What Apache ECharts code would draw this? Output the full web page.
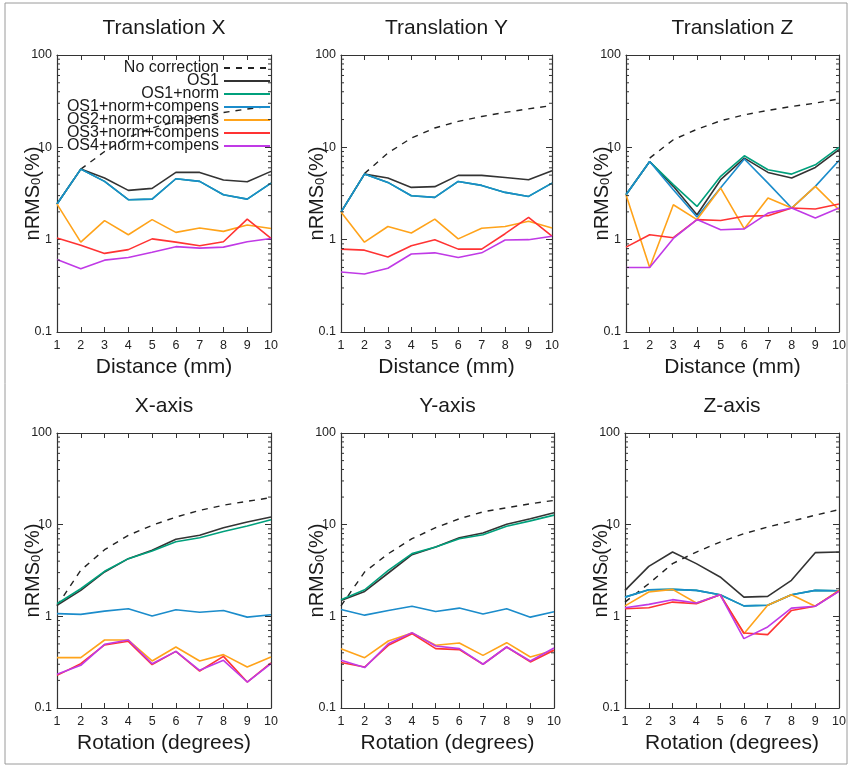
<!DOCTYPE html>
<html>
<head>
<meta charset="utf-8">
<script src="https://cdn.jsdelivr.net/npm/echarts@6/dist/echarts.min.js"></script>
<style>
  html, body { margin: 0; padding: 0; background: #fff; }
  #chart { width: 850px; height: 767px; }
</style>
</head>
<body>
<div id="chart"></div>
<script>
// x positions (mm for translations, degrees for rotations)
var steps = [1, 2, 3, 4, 5, 6, 7, 8, 9, 10];
var seriesNames = ['No correction', 'OS1', 'OS1+norm', 'OS1+norm+compens',
    'OS2+norm+compens', 'OS3+norm+compens', 'OS4+norm+compens'];
var seriesColors = ['#222222', '#333333', '#00a07c', '#1b8ccb', '#ffa31a', '#ff3333', '#c03ae6'];
var panelTitles = ['Translation X', 'Translation Y', 'Translation Z', 'X-axis', 'Y-axis', 'Z-axis'];
var xNames = ['Distance (mm)', 'Distance (mm)', 'Distance (mm)',
    'Rotation (degrees)', 'Rotation (degrees)', 'Rotation (degrees)'];
var minorTicks = [0.2, 0.3, 0.4, 0.5, 0.6, 0.7, 0.8, 0.9,
    2, 3, 4, 5, 6, 7, 8, 9, 20, 30, 40, 50, 60, 70, 80, 90];

// one row per series, same order as seriesNames
var transX = [
    [null, 5.8, 9.0, 12.8, 16.2, 19.0, 21.5, 23.8, 26.0, 28.0],
    [2.43, 5.81, 4.65, 3.42, 3.59, 5.35, 5.35, 4.42, 4.24, 5.49],
    [2.43, 5.81, 4.28, 2.71, 2.75, 4.57, 4.28, 3.07, 2.75, 4.10],
    [2.43, 5.81, 4.28, 2.71, 2.75, 4.57, 4.28, 3.07, 2.75, 4.10],
    [2.43, 0.94, 1.61, 1.13, 1.65, 1.20, 1.34, 1.23, 1.44, 1.32],
    [1.04, 0.87, 0.71, 0.78, 1.02, 0.94, 0.86, 0.95, 1.67, 1.03],
    [0.61, 0.485, 0.60, 0.64, 0.73, 0.84, 0.81, 0.83, 0.95, 1.03]
];
var transY = [
    [null, 5.2, 8.66, 12.6, 16.2, 19.1, 21.6, 23.9, 26.1, 28.4],
    [1.99, 5.13, 4.65, 3.68, 3.75, 4.97, 4.97, 4.72, 4.46, 5.58],
    [1.99, 5.13, 4.17, 2.99, 2.87, 4.27, 3.87, 3.25, 2.94, 4.10],
    [1.99, 5.13, 4.17, 2.99, 2.87, 4.27, 3.87, 3.25, 2.94, 4.10],
    [1.99, 0.94, 1.39, 1.18, 1.67, 1.02, 1.33, 1.39, 1.58, 1.34],
    [0.79, 0.77, 0.65, 0.86, 1.0, 0.79, 0.79, 1.16, 1.74, 1.09],
    [0.447, 0.425, 0.49, 0.70, 0.72, 0.64, 0.72, 0.99, 1.0, 1.09]
];
var transZ = [
    [null, 7.65, 12.1, 15.7, 19.4, 22.5, 25.1, 27.7, 30.1, 33.5],
    [3.07, 7.03, 3.78, 1.86, 4.46, 7.65, 5.35, 4.65, 6.06, 9.42],
    [3.07, 7.03, 3.94, 2.29, 4.85, 8.1, 5.72, 5.13, 6.47, 9.98],
    [3.07, 7.03, 3.47, 1.76, 3.65, 7.47, 4.10, 2.2, 3.78, 7.2],
    [3.07, 0.50, 2.39, 1.65, 3.62, 1.31, 2.82, 2.2, 3.78, 2.11],
    [0.83, 1.13, 1.05, 1.65, 1.61, 1.79, 1.82, 2.2, 2.15, 2.43],
    [0.50, 0.50, 1.03, 1.65, 1.28, 1.31, 1.94, 2.2, 1.72, 2.2]
];
var rotX = [
    [1.3, 3.18, 5.33, 7.65, 9.84, 12.1, 14.3, 16.3, 18.0, 19.7],
    [1.32, 1.92, 3.05, 4.26, 5.25, 6.92, 7.65, 9.27, 10.7, 12.1],
    [1.37, 2.0, 3.1, 4.26, 5.16, 6.5, 7.2, 8.43, 9.66, 11.3],
    [1.07, 1.05, 1.14, 1.21, 1.01, 1.18, 1.11, 1.16, 0.98, 1.04],
    [0.354, 0.354, 0.552, 0.552, 0.326, 0.463, 0.326, 0.382, 0.28, 0.36],
    [0.227, 0.304, 0.487, 0.534, 0.297, 0.415, 0.253, 0.366, 0.192, 0.31],
    [0.233, 0.292, 0.495, 0.552, 0.304, 0.415, 0.258, 0.331, 0.192, 0.304]
];
var rotY = [
    [1.3, 3.05, 4.83, 7.03, 9.27, 11.6, 13.8, 15.3, 16.9, 18.4],
    [1.49, 1.87, 2.97, 4.7, 5.7, 7.2, 8.1, 10.1, 11.6, 13.5],
    [1.52, 1.95, 3.17, 4.83, 5.7, 7.03, 7.77, 9.6, 11.0, 12.7],
    [1.19, 1.03, 1.16, 1.29, 1.13, 1.23, 1.06, 1.21, 0.98, 1.12],
    [0.444, 0.354, 0.538, 0.658, 0.483, 0.512, 0.375, 0.516, 0.36, 0.426],
    [0.313, 0.28, 0.483, 0.647, 0.444, 0.433, 0.3, 0.463, 0.318, 0.426],
    [0.331, 0.276, 0.503, 0.664, 0.475, 0.444, 0.3, 0.463, 0.326, 0.451]
];
var rotZ = [
    [1.43, 2.27, 3.76, 5.03, 6.46, 7.98, 9.42, 10.9, 12.7, 14.6],
    [1.92, 3.51, 5.03, 3.76, 2.69, 1.62, 1.65, 2.47, 4.95, 5.03],
    [1.62, 1.95, 1.97, 1.92, 1.72, 1.30, 1.32, 1.72, 1.92, 1.9],
    [1.62, 1.95, 1.97, 1.92, 1.72, 1.30, 1.32, 1.72, 1.92, 1.9],
    [1.30, 1.84, 1.97, 1.40, 1.72, 0.647, 1.32, 1.72, 1.29, 1.92],
    [1.21, 1.24, 1.43, 1.37, 1.72, 0.658, 0.631, 1.16, 1.29, 1.89],
    [1.24, 1.35, 1.52, 1.40, 1.72, 0.571, 0.765, 1.23, 1.29, 1.87]
];
var panels = [transX, transY, transZ, rotX, rotY, rotZ];

var font = '"Liberation Sans", Arial, Helvetica, sans-serif';
var axisColor = '#333';

// plot boxes (left, top, width, height)
var boxes = [
    [57, 55, 214, 277], [341, 55, 211, 277], [626, 55, 213, 277],
    [57, 433, 214, 275], [341, 433, 213, 275], [625, 433, 214, 275]
];

var grids = [], xAxes = [], yAxes = [], titles = [], series = [];

boxes.forEach(function (b, i) {
    grids.push({ left: b[0], top: b[1], width: b[2], height: b[3] });
    titles.push({
        text: panelTitles[i],
        left: b[0] + b[2] / 2,
        top: b[1] - 37,
        textAlign: 'center',
        padding: 0,
        textStyle: { fontFamily: font, fontSize: 21, fontWeight: 'normal', color: '#1a1a1a' }
    });
    var xBase = {
        gridIndex: i, type: 'value', min: 1, max: 10, interval: 1,
        axisLine: { lineStyle: { color: axisColor, width: 1.2 } },
        axisTick: { inside: true, length: 5, lineStyle: { color: axisColor } },
        splitLine: { show: false }
    };
    xAxes.push(Object.assign({}, xBase, {
        position: 'bottom',
        axisLabel: { fontFamily: font, fontSize: 12.5, color: '#222', margin: 7 },
        name: xNames[i], nameLocation: 'middle', nameGap: 25, nameMoveOverlap: false,
        nameTextStyle: { fontFamily: font, fontSize: 21, color: '#1a1a1a' }
    }));
    xAxes.push(Object.assign({}, xBase, { position: 'top', axisLabel: { show: false } }));

    var yBase = {
        gridIndex: i, type: 'log', logBase: 10, min: 0.1, max: 100,
        axisLine: { show: true, lineStyle: { color: axisColor, width: 1.2 } },
        axisTick: { show: true, inside: true, length: 6, lineStyle: { color: axisColor } },
        splitLine: { show: false }
    };
    yAxes.push(Object.assign({}, yBase, {
        position: 'left',
        axisLabel: { fontFamily: font, fontSize: 12.5, color: '#222', margin: 5 },
        name: 'nRMS{sub|0}(%)', nameLocation: 'middle', nameGap: 14, nameRotate: 90,
        nameMoveOverlap: false,
        nameTextStyle: {
            fontFamily: font, fontSize: 20, color: '#1a1a1a',
            rich: { sub: { fontFamily: font, fontSize: 13, color: '#1a1a1a', verticalAlign: 'bottom', padding: [6, 0, 0, 0] } }
        }
    }));
    yAxes.push(Object.assign({}, yBase, { position: 'right', axisLabel: { show: false } }));

    // minor log ticks on both sides of the box
    series.push({
        type: 'custom', xAxisIndex: 2 * i, yAxisIndex: 2 * i, silent: true, z: 5,
        data: minorTicks.map(function (v) { return [1, v]; }),
        renderItem: function (params, api) {
            var v = api.value(1);
            var l = api.coord([1, v]);
            var r = api.coord([10, v]);
            return {
                type: 'group',
                children: [
                    { type: 'line', shape: { x1: l[0], y1: l[1], x2: l[0] + 3, y2: l[1] }, style: { stroke: axisColor, lineWidth: 1 } },
                    { type: 'line', shape: { x1: r[0] - 3, y1: r[1], x2: r[0], y2: r[1] }, style: { stroke: axisColor, lineWidth: 1 } }
                ]
            };
        }
    });

    panels[i].forEach(function (vals, k) {
        series.push({
            name: seriesNames[k],
            type: 'line',
            xAxisIndex: 2 * i, yAxisIndex: 2 * i,
            symbol: 'none',
            data: steps.map(function (x, j) { return [x, vals[j]]; }),
            lineStyle: k === 0
                ? { color: seriesColors[k], width: 1.4, type: [6, 6] }
                : { color: seriesColors[k], width: 1.6 },
            itemStyle: { color: seriesColors[k] },
            z: 2 + k * 0.01
        });
    });
});

var chart = echarts.init(document.getElementById('chart'), null, { renderer: 'canvas' });
chart.setOption({
    animation: false,
    backgroundColor: '#fff',
    title: titles,
    grid: grids,
    xAxis: xAxes,
    yAxis: yAxes,
    legend: {
        data: seriesNames,
        orient: 'vertical',
        right: 850 - 271,
        top: 60,
        align: 'right',
        itemWidth: 46,
        itemHeight: 13,
        itemGap: -3,
        padding: 0,
        selectedMode: false,
        // hide the symbol drawn in the middle of each line sample
        itemStyle: { opacity: 0 },
        textStyle: { fontFamily: font, fontSize: 16, color: '#1a1a1a', lineHeight: 13 }
    },
    graphic: [{
        type: 'rect', silent: true,
        shape: { x: 5, y: 3, width: 842, height: 761 },
        style: { fill: 'none', stroke: '#9a9a9a', lineWidth: 1 }
    }],
    series: series
});
</script>
</body>
</html>
